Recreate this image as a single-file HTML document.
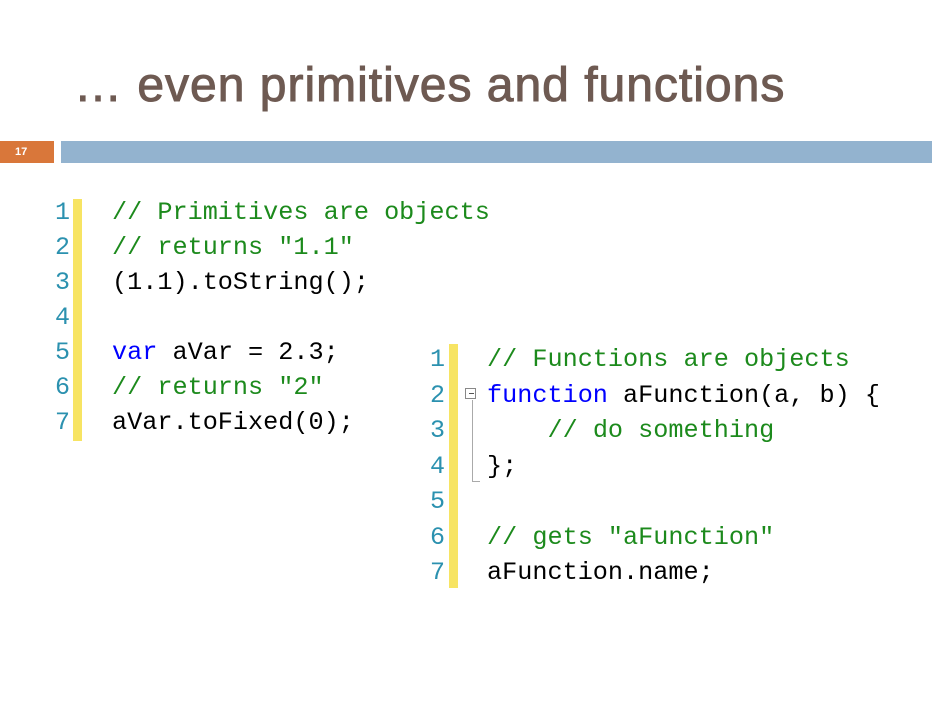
<!DOCTYPE html>
<html><head><meta charset="utf-8"><style>
body{margin:0;width:932px;height:720px;background:#fff;position:relative;overflow:hidden}
.t{position:absolute;left:74px;top:58px;font:48px "Liberation Sans",sans-serif;color:#6e5a52;letter-spacing:1px;white-space:nowrap;-webkit-text-stroke:1px #6e5a52}
.o{position:absolute;left:0;top:141px;width:54px;height:22px;background:#d9773a;color:#fff;font:bold 11px "Liberation Sans",sans-serif;line-height:22px;text-indent:15px}
.b{position:absolute;left:61px;top:141px;width:871px;height:22px;background:#93b3cf}
.bar{position:absolute;background:#f7e463;width:9px}
.c{position:absolute;font:25.2px "Liberation Mono",monospace;white-space:pre;line-height:35px}
.n{position:absolute;font:25px "Liberation Mono",monospace;color:#2b91af;white-space:pre;line-height:35px;text-align:right}
.g{color:#1c8a1c}.k{color:#0000ff}
</style></head><body>
<div class="t">… even primitives and functions</div>
<div class="o">17</div><div class="b"></div>

<div class="bar" style="left:73px;top:199px;height:242px"></div>
<div class="n" style="left:40px;top:195px;width:30px">1
2
3
4
5
6
7</div>
<div class="c" style="left:112px;top:195px"><span class="g">// Primitives are objects</span>
<span class="g">// returns "1.1"</span>
(1.1).toString();

<span class="k">var</span> aVar = 2.3;
<span class="g">// returns "2"</span>
aVar.toFixed(0);</div>

<div class="bar" style="left:449px;top:344px;height:244px"></div>
<div class="n" style="left:415px;top:342px;width:30px;line-height:35.5px">1
2
3
4
5
6
7</div>
<div style="position:absolute;left:465px;top:388px;width:11px;height:11px;border:1px solid #888;box-sizing:border-box"></div>
<div style="position:absolute;left:469px;top:393px;width:5px;height:1px;background:#555"></div>
<div style="position:absolute;left:472px;top:400px;width:1px;height:82px;background:#aaa"></div>
<div style="position:absolute;left:472px;top:481px;width:8px;height:1px;background:#aaa"></div>
<div class="c" style="left:487px;top:342px;line-height:35.5px"><span class="g">// Functions are objects</span>
<span class="k">function</span> aFunction(a, b) {
    <span class="g">// do something</span>
};

<span class="g">// gets "aFunction"</span>
aFunction.name;</div>
</body></html>
